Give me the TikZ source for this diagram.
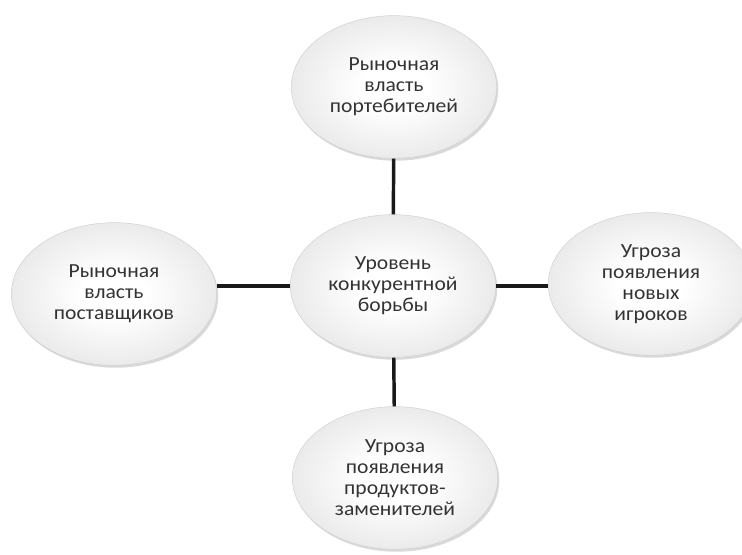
\documentclass[tikz,border=0pt]{standalone}
\usepackage{fontspec}
\setmainfont[FakeStretch=1.08]{Carlito}
\usepackage{xcolor}
\usetikzlibrary{shapes.geometric,shadows}
\pgfdeclareradialshading{orb}{\pgfpoint{0bp}{0bp}}{color(0bp)=(white); color(8bp)=(white); color(26bp)=(gray!17); color(31bp)=(gray!36); color(33.3bp)=(gray!10); color(35.5bp)=(gray!28); color(50bp)=(gray!28)}

\begin{document}
\begin{tikzpicture}[x=0.75pt,y=-0.75pt,
  force/.style={ellipse,minimum width=154pt,minimum height=107pt,inner sep=0pt,draw=gray!35,line width=0.4pt,shading=orb,drop shadow={shadow xshift=1.2pt,shadow yshift=-1.8pt,opacity=0.3,fill=gray},align=center,text=black!80,font=\fontsize{15}{15.75}\selectfont},
  link/.style={line width=2.6pt,black!90}]
\useasboundingbox (0,0) rectangle (742,555);
\node[force] (level) at (393,286) {Уровень\\конкурентной\\борьбы};
\node[force] (buyers) at (394,87) {Рыночная\\власть\\портебителей};
\node[force] (suppliers) at (114,294) {Рыночная\\власть\\поставщиков};
\node[force] (entrants) at (651,284) {Угроза\\появления\\новых\\игроков};
\node[force] (substitutes) at (395,478) {Угроза\\появления\\продуктов-\\заменителей};
\draw[link] (buyers) -- (level);
\draw[link] (level) -- (substitutes);
\draw[link] (level) -- (level -| suppliers.east);
\draw[link] (level) -- (level -| entrants.west);
\end{tikzpicture}
\end{document}
